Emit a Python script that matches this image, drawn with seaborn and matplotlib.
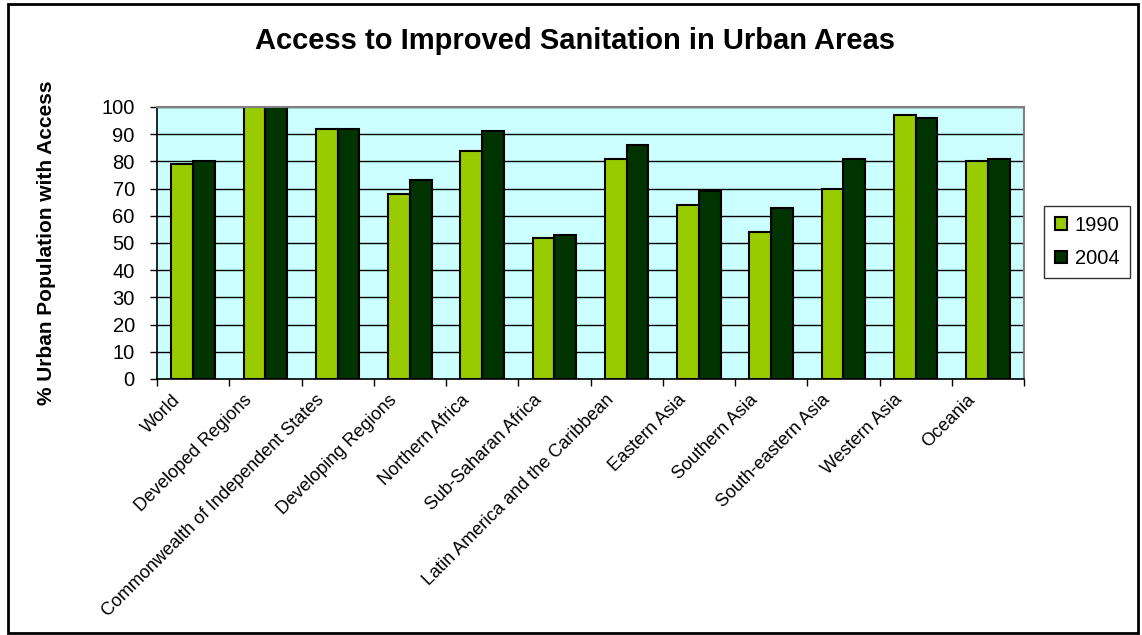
import matplotlib
matplotlib.use("Agg")
import matplotlib.pyplot as plt
import seaborn as sns
import pandas as pd
from matplotlib.patches import Rectangle

regions = ["World", "Developed Regions", "Commonwealth of Independent States",
           "Developing Regions", "Northern Africa", "Sub-Saharan Africa",
           "Latin America and the Caribbean", "Eastern Asia", "Southern Asia",
           "South-eastern Asia", "Western Asia", "Oceania"]
values_1990 = [79, 100, 92, 68, 84, 52, 81, 64, 54, 70, 97, 80]
values_2004 = [80, 100, 92, 73, 91, 53, 86, 69, 63, 81, 96, 81]
years = ["1990", "2004"]
yticks = list(range(0, 101, 10))

df = pd.DataFrame({
    "region": regions * 2,
    "value": values_1990 + values_2004,
    "year": [years[0]] * len(regions) + [years[1]] * len(regions),
})

sns.set_theme(style="white")
plt.rcParams["font.family"] = ["Liberation Sans", "DejaVu Sans"]
plt.rcParams["text.color"] = "black"
plt.rcParams["axes.labelcolor"] = "black"
plt.rcParams["xtick.color"] = "black"
plt.rcParams["ytick.color"] = "black"

fig = plt.figure(figsize=(11.42, 6.35), dpi=100)
ax = fig.add_axes([157 / 1142, 1 - 379 / 635, (1024 - 157) / 1142, (379 - 107) / 635])
ax.set_facecolor("#CCFFFF")

sns.barplot(data=df, x="region", y="value", hue="year", order=regions,
            hue_order=years, palette=["#99CC00", "#003300"], saturation=1,
            edgecolor="black", linewidth=1.5, width=0.6, ax=ax, legend=True)

ax.set_ylim(0, 100)
ax.set_xlim(-0.5, len(regions) - 0.5)
ax.set_yticks(yticks)
ax.set_yticklabels([str(t) for t in yticks], fontsize=14.5)
ax.yaxis.grid(True, color="black", linewidth=1)
ax.set_axisbelow(True)

# category labels: invisible major ticks, nudged left like the original
label_offset = 0.3
ax.set_xticks([i - label_offset for i in range(len(regions))])
ax.set_xticklabels(regions, rotation=45, ha="right", va="top",
                   rotation_mode="anchor", fontsize=13)
ax.tick_params(axis="x", which="major", length=0, pad=9)
ax.set_xticks([i - 0.5 for i in range(len(regions) + 1)], minor=True)
ax.tick_params(axis="x", which="minor", length=5, width=1, color="black",
               direction="out", bottom=True)
ax.tick_params(axis="y", length=5, width=1, color="black", direction="out",
               left=True, pad=11)

ax.set_xlabel("")
ax.set_ylabel("% Urban Population with Access", fontsize=15, fontweight="bold")
ax.yaxis.set_label_coords(-0.117, 0.5)

for side in ["left", "bottom"]:
    ax.spines[side].set_color("black")
    ax.spines[side].set_linewidth(1.2)
for side in ["top", "right"]:
    ax.spines[side].set_color("#808080")
    ax.spines[side].set_linewidth(1.5)

ax.get_legend().remove()
handles, labels = ax.get_legend_handles_labels()
leg = fig.legend(handles[:2], labels[:2], loc="center",
                 bbox_to_anchor=(1087 / 1142, 1 - 242 / 635),
                 fontsize=14.5, frameon=True, fancybox=False, edgecolor="black",
                 handlelength=0.6, handleheight=0.6, handletextpad=0.4,
                 borderpad=0.5, labelspacing=0.7, borderaxespad=0)
leg.get_frame().set_linewidth(1)

fig.text(575 / 1142, 1 - 41 / 635, "Access to Improved Sanitation in Urban Areas",
         ha="center", va="center", fontsize=21, fontweight="bold")

fig.patches.append(Rectangle((8 / 1142, 2 / 635), 1130 / 1142, 629 / 635,
                             transform=fig.transFigure, fill=False,
                             edgecolor="black", linewidth=2))

fig.savefig("out.png", dpi=100)
